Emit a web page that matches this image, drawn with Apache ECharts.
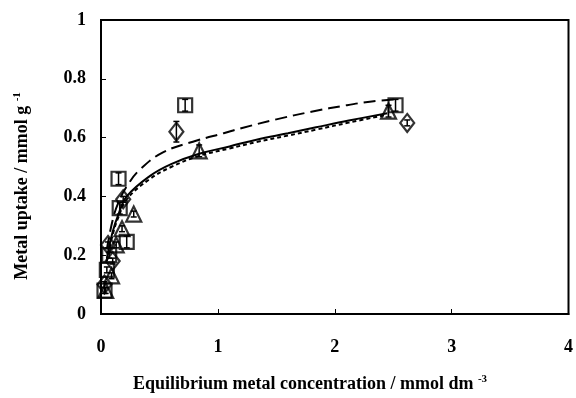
<!DOCTYPE html>
<html>
<head>
<meta charset="utf-8">
<script src="https://cdn.jsdelivr.net/npm/echarts@6/dist/echarts.min.js"></script>
<style>
  html, body { margin: 0; padding: 0; background: #fff; }
  #chart { width: 576px; height: 398px; }
</style>
</head>
<body>
<div id="chart"></div>
<script>
// Measured uptake points (x: equilibrium conc., y: uptake, e: error half-width)
const squareX = [0.03, 0.05, 0.07, 0.15, 0.16, 0.22, 0.72, 2.52];
const squareY = [0.08, 0.15, 0.20, 0.46, 0.36, 0.245, 0.71, 0.71];
const squareE = [0.01, 0.01, 0.01, 0.02, 0.02, 0.02, 0.02, 0.02];

const diamondX = [0.03, 0.06, 0.10, 0.19, 0.645, 2.62];
const diamondY = [0.10, 0.235, 0.18, 0.39, 0.62, 0.65];
const diamondE = [0.01, 0.01, 0.01, 0.01, 0.035, 0.01];

const triangleX = [0.04, 0.09, 0.13, 0.18, 0.28, 0.84, 2.46];
const triangleY = [0.08, 0.13, 0.235, 0.29, 0.34, 0.555, 0.69];
const triangleE = [0.01, 0.01, 0.01, 0.01, 0.01, 0.02, 0.02];

// Fitted isotherm curves
const longDashX = [0.05, 0.10, 0.15, 0.23, 0.33, 0.53, 0.82, 1.05, 1.20, 1.50, 1.80, 2.10, 2.30, 2.52];
const longDashY = [0.22, 0.32, 0.38, 0.44, 0.49, 0.55, 0.59, 0.615, 0.632, 0.662, 0.688, 0.71, 0.722, 0.73];

const solidX = [0.05, 0.10, 0.15, 0.22, 0.42, 0.60, 0.84, 1.10, 1.33, 1.60, 1.84, 2.12, 2.45];
const solidY = [0.19, 0.28, 0.34, 0.40, 0.47, 0.51, 0.545, 0.57, 0.593, 0.615, 0.635, 0.658, 0.683];

const shortDashX = [0.05, 0.10, 0.15, 0.22, 0.42, 0.60, 0.84, 1.10, 1.33, 1.60, 1.84, 2.12, 2.45];
const shortDashY = [0.18, 0.27, 0.33, 0.39, 0.46, 0.50, 0.538, 0.563, 0.585, 0.607, 0.627, 0.651, 0.678];

const xTicks = [0, 1, 2, 3, 4];
const yTicks = [0, 0.2, 0.4, 0.6, 0.8, 1];

const pairs = (xs, ys) => xs.map((x, i) => [x, ys[i]]);
const triples = (xs, ys, es) => xs.map((x, i) => [x, ys[i], es[i]]);

const FONT = '"Liberation Serif", "DejaVu Serif", serif';

function errorBars(xs, ys, es) {
  return {
    type: 'custom',
    data: triples(xs, ys, es),
    z: 4,
    renderItem: function (params, api) {
      const x = api.value(0), y = api.value(1), e = api.value(2);
      const hi = api.coord([x, y + e]);
      const lo = api.coord([x, y - e]);
      const w = 3;
      const style = { stroke: '#000', lineWidth: 1.5 };
      return {
        type: 'group',
        children: [
          { type: 'line', shape: { x1: hi[0], y1: hi[1], x2: lo[0], y2: lo[1] }, style: style },
          { type: 'line', shape: { x1: hi[0] - w, y1: hi[1], x2: hi[0] + w, y2: hi[1] }, style: style },
          { type: 'line', shape: { x1: lo[0] - w, y1: lo[1], x2: lo[0] + w, y2: lo[1] }, style: style }
        ]
      };
    }
  };
}

function markers(xs, ys, symbol, size) {
  return {
    type: 'scatter',
    data: pairs(xs, ys),
    symbol: symbol,
    symbolSize: size,
    z: 3,
    itemStyle: { color: 'rgba(255,255,255,0)', borderColor: '#000', borderWidth: 2.2 }
  };
}

function curve(xs, ys, dash) {
  return {
    type: 'line',
    data: pairs(xs, ys),
    smooth: 0.4,
    showSymbol: false,
    z: 2,
    lineStyle: { color: '#000', width: 2, type: dash }
  };
}

const chart = echarts.init(document.getElementById('chart'), null, { renderer: 'canvas' });
chart.setOption({
  animation: false,
  backgroundColor: '#fff',
  grid: {
    left: 101, right: 6, top: 20, bottom: 84,
    show: true, borderColor: '#000', borderWidth: 2, backgroundColor: 'transparent'
  },
  xAxis: {
    type: 'value', min: xTicks[0], max: xTicks[xTicks.length - 1], interval: 1,
    axisLine: { lineStyle: { color: '#000', width: 2 } },
    axisTick: { inside: true, length: 5, lineStyle: { color: '#000', width: 1 } },
    splitLine: { show: false },
    axisLabel: { color: '#000', fontFamily: FONT, fontWeight: 'bold', fontSize: 18, margin: 24 }
  },
  yAxis: {
    type: 'value', min: yTicks[0], max: yTicks[yTicks.length - 1], interval: 0.2,
    axisLine: { lineStyle: { color: '#000', width: 2 } },
    axisTick: { inside: true, length: 5, lineStyle: { color: '#000', width: 1 } },
    splitLine: { show: false },
    axisLabel: { color: '#000', fontFamily: FONT, fontWeight: 'bold', fontSize: 18, margin: 15,
      formatter: v => String(+v.toFixed(1)) }
  },
  graphic: [
    {
      type: 'text', x: 310, y: 384,
      style: {
        text: 'Equilibrium metal concentration / mmol dm {s|-3}',
        font: 'bold 18px ' + FONT, fill: '#000', align: 'center', verticalAlign: 'middle',
        rich: { s: { font: 'bold 11px ' + FONT, fill: '#000', padding: [0, 0, 9, 0] } }
      }
    },
    {
      type: 'text', x: 22, y: 186, rotation: Math.PI / 2,
      style: {
        text: 'Metal uptake / mmol g {s|-1}',
        font: 'bold 18px ' + FONT, fill: '#000', align: 'center', verticalAlign: 'middle',
        rich: { s: { font: 'bold 11px ' + FONT, fill: '#000', padding: [0, 0, 9, 0] } }
      }
    }
  ],
  series: [
    curve(longDashX, longDashY, [12, 6]),
    curve(solidX, solidY, 'solid'),
    curve(shortDashX, shortDashY, [4, 3]),
    errorBars(squareX, squareY, squareE),
    errorBars(diamondX, diamondY, diamondE),
    errorBars(triangleX, triangleY, triangleE),
    markers(squareX, squareY, 'rect', 14),
    markers(diamondX, diamondY, 'diamond', [14, 18]),
    markers(triangleX, triangleY, 'triangle', 15)
  ]
});
</script>
</body>
</html>
